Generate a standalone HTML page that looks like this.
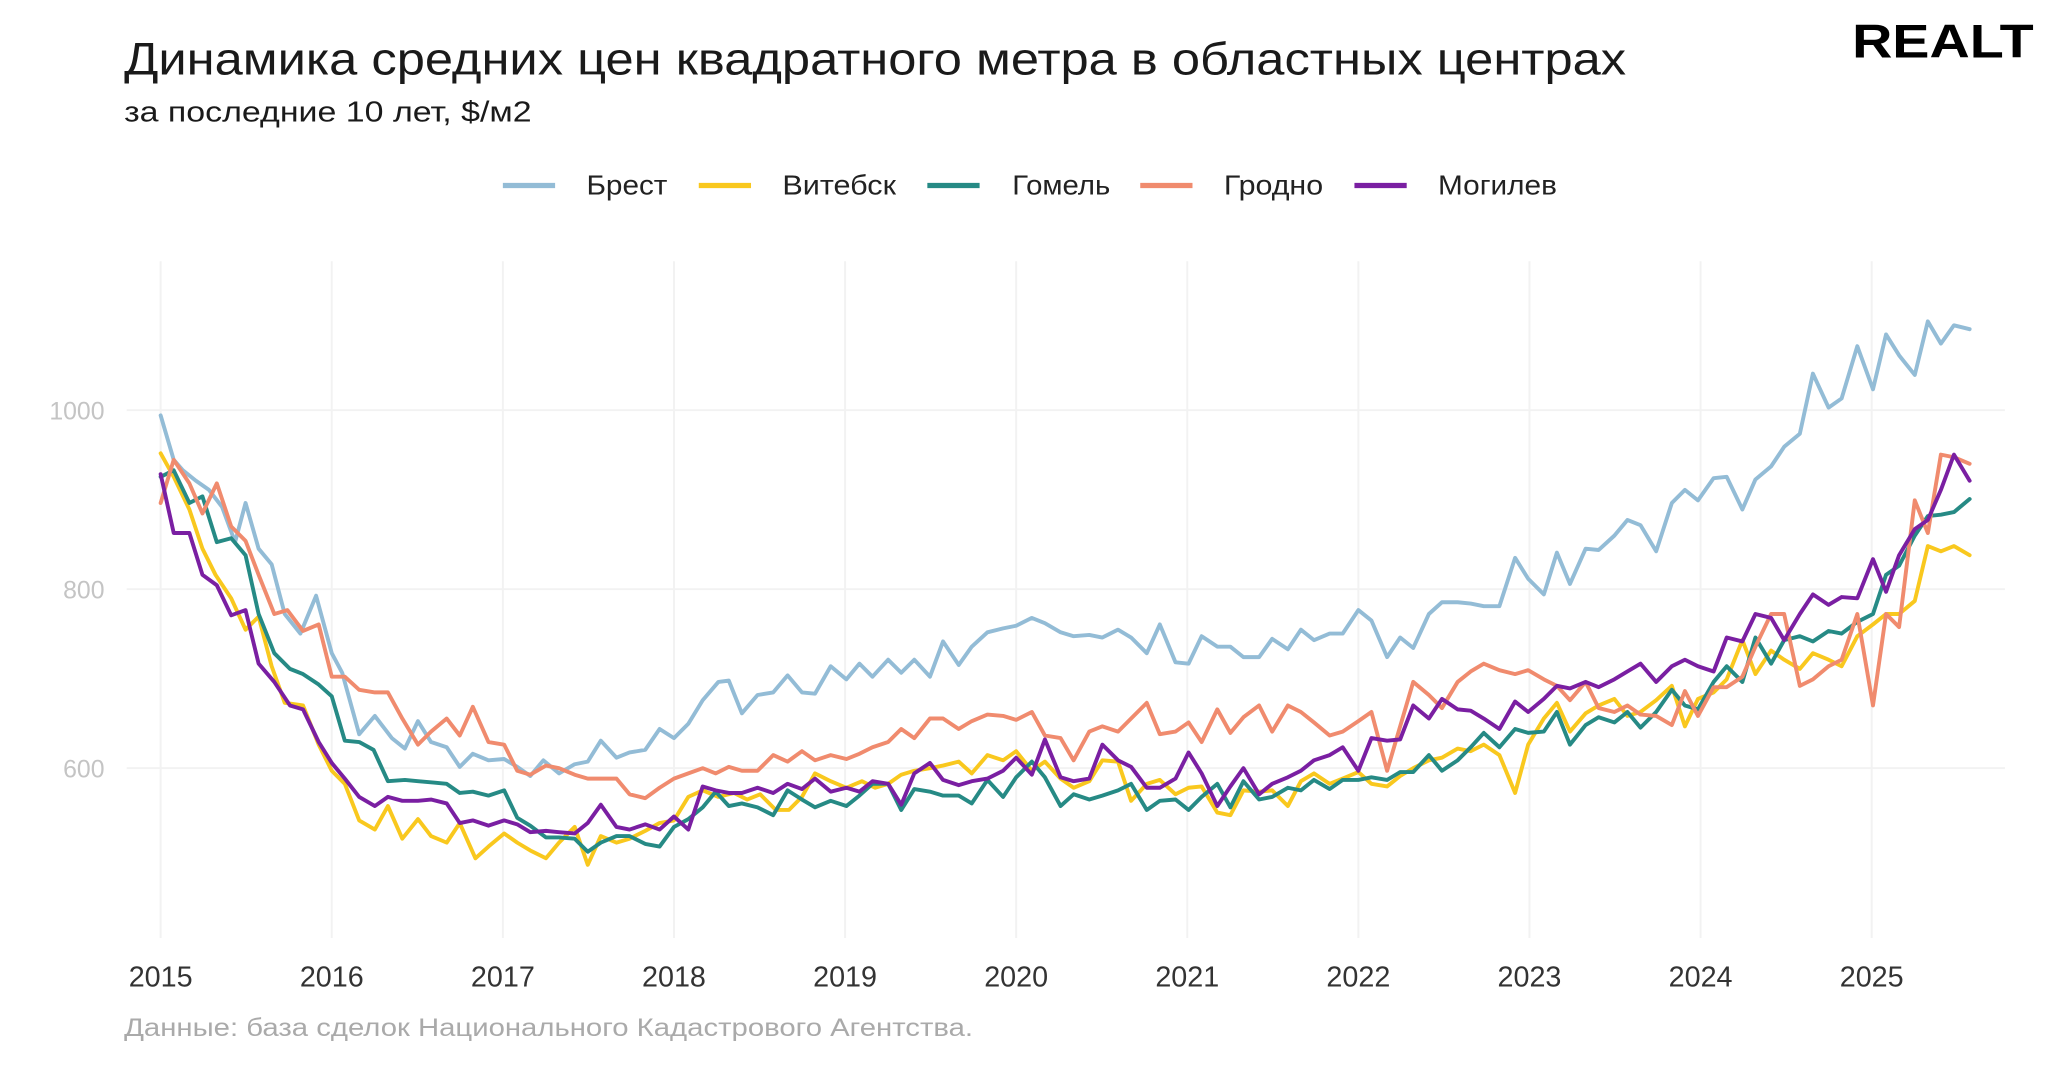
<!DOCTYPE html>
<html><head><meta charset="utf-8"><style>
html,body{margin:0;padding:0;background:#fff;}
svg{display:block;}
text{font-family:"Liberation Sans","DejaVu Sans",sans-serif;}
</style></head><body>
<svg width="2048" height="1083" viewBox="0 0 1568 829" preserveAspectRatio="none" xmlns="http://www.w3.org/2000/svg">
<rect width="1568" height="829" fill="#fff"/>
<text x="95" y="57" font-size="35" fill="#1a1a1a" textLength="1150" lengthAdjust="spacingAndGlyphs">Динамика средних цен квадратного метра в областных центрах</text>
<text x="95" y="93" font-size="22" fill="#1a1a1a" textLength="312" lengthAdjust="spacingAndGlyphs">за последние 10 лет, $/м2</text>
<text x="1418" y="44" font-size="36" font-weight="bold" fill="#000" textLength="139" lengthAdjust="spacingAndGlyphs">REALT</text>
<g font-size="21" fill="#222">
<line x1="385" y1="142" x2="425" y2="142" stroke="#93bcd6" stroke-width="4"/><text x="449" y="149" textLength="62" lengthAdjust="spacingAndGlyphs">Брест</text>
<line x1="535" y1="142" x2="575" y2="142" stroke="#f9c81e" stroke-width="4"/><text x="599" y="149" textLength="87" lengthAdjust="spacingAndGlyphs">Витебск</text>
<line x1="710" y1="142" x2="750" y2="142" stroke="#268a85" stroke-width="4"/><text x="775" y="149" textLength="75" lengthAdjust="spacingAndGlyphs">Гомель</text>
<line x1="873" y1="142" x2="913" y2="142" stroke="#f08b6e" stroke-width="4"/><text x="937" y="149" textLength="76" lengthAdjust="spacingAndGlyphs">Гродно</text>
<line x1="1037" y1="142" x2="1077" y2="142" stroke="#7a1fa2" stroke-width="4"/><text x="1101" y="149" textLength="91" lengthAdjust="spacingAndGlyphs">Могилев</text>
</g>
<g stroke="#f2f2f2" stroke-width="1.5">
<line x1="97" y1="314" x2="1535" y2="314"/><line x1="97" y1="451" x2="1535" y2="451"/><line x1="97" y1="588" x2="1535" y2="588"/>
<line x1="123" y1="200" x2="123" y2="718"/><line x1="254" y1="200" x2="254" y2="718"/><line x1="385" y1="200" x2="385" y2="718"/><line x1="516" y1="200" x2="516" y2="718"/><line x1="647" y1="200" x2="647" y2="718"/><line x1="778" y1="200" x2="778" y2="718"/><line x1="909" y1="200" x2="909" y2="718"/><line x1="1040" y1="200" x2="1040" y2="718"/><line x1="1171" y1="200" x2="1171" y2="718"/><line x1="1302" y1="200" x2="1302" y2="718"/><line x1="1433" y1="200" x2="1433" y2="718"/>
</g>
<g font-size="19" fill="#c4c4c4" text-anchor="end">
<text x="80" y="321">1000</text><text x="80" y="458">800</text><text x="80" y="595">600</text>
</g>
<g font-size="22" fill="#333" text-anchor="middle">
<text x="123" y="755">2015</text><text x="254" y="755">2016</text><text x="385" y="755">2017</text><text x="516" y="755">2018</text><text x="647" y="755">2019</text><text x="778" y="755">2020</text><text x="909" y="755">2021</text><text x="1040" y="755">2022</text><text x="1171" y="755">2023</text><text x="1302" y="755">2024</text><text x="1433" y="755">2025</text>
</g>
<text x="95" y="793" font-size="19" fill="#aaa" textLength="650" lengthAdjust="spacingAndGlyphs">Данные: база сделок Национального Кадастрового Агентства.</text>
<g fill="none" stroke-width="3" stroke-linejoin="round" stroke-linecap="round">
<polyline stroke="#93bcd6" points="123,318 133,352 140,360 150,368 160,375 170,388 180,415 188,385 198,420 208,432 218,470 230,485 242,456 254,500 262,515 275,562 287,548 300,565 310,573 320,552 330,568 342,572 352,587 362,577 374,582 386,581 396,587 406,594 416,582 428,592 440,585 450,583 460,567 472,580 482,576 494,574 505,558 516,565 527,554 538,536 550,522 558,521 568,546 580,532 592,530 603,517 614,530 624,531 636,510 648,520 658,508 668,518 680,505 690,515 700,505 712,518 722,491 734,509 744,495 756,484 768,481 778,479 790,473 800,477 812,484 822,487 834,486 844,488 856,482 866,488 878,500 888,478 900,507 910,508 920,487 932,495 942,495 952,503 964,503 974,489 986,497 996,482 1006,490 1018,485 1028,485 1040,467 1050,475 1062,503 1072,488 1082,496 1094,470 1104,461 1116,461 1126,462 1136,464 1148,464 1160,427 1170,443 1182,455 1192,423 1202,447 1214,420 1224,421 1236,410 1246,398 1256,402 1268,422 1280,385 1290,375 1300,383 1312,366 1322,365 1334,390 1344,367 1356,357 1366,342 1378,332 1388,286 1400,312 1410,305 1422,265 1434,298 1444,256 1454,272 1466,287 1476,246 1486,263 1496,249 1508,252"/>
<polyline stroke="#f9c81e" points="123,347 133,365 145,390 155,420 165,440 177,458 188,482 198,472 208,510 218,538 232,540 244,570 254,590 264,600 275,628 287,635 297,617 308,642 320,627 330,640 342,645 352,630 364,657 374,648 386,638 396,645 406,651 418,657 428,645 440,633 450,662 460,640 472,645 482,642 494,636 505,630 516,628 527,610 538,605 550,610 562,607 572,612 582,608 594,620 604,620 614,610 624,592 636,598 648,603 660,598 670,603 680,600 690,593 700,590 712,588 722,586 734,583 744,592 756,578 768,582 778,575 790,590 800,583 812,596 822,603 834,598 844,582 856,583 866,613 878,600 888,597 900,608 910,603 920,602 932,622 942,624 952,605 964,606 974,605 986,617 996,598 1006,592 1018,600 1028,596 1040,591 1050,600 1062,602 1072,594 1082,588 1094,582 1104,580 1116,573 1126,575 1136,570 1148,578 1160,607 1170,570 1182,550 1192,538 1202,560 1214,546 1224,540 1236,535 1246,548 1256,545 1268,536 1280,525 1290,556 1300,535 1312,530 1322,520 1334,490 1344,516 1356,498 1366,505 1378,512 1388,500 1400,505 1410,510 1422,487 1434,478 1444,470 1454,470 1466,460 1476,418 1486,422 1496,418 1508,425"/>
<polyline stroke="#268a85" points="123,365 133,360 145,385 155,380 166,415 177,412 188,425 198,470 210,500 222,512 232,516 244,524 254,533 264,567 275,568 286,574 297,598 310,597 320,598 332,599 342,600 352,607 362,606 374,609 386,605 396,626 406,632 418,641 428,641 440,642 450,652 460,645 472,640 482,640 494,646 505,648 516,633 527,627 538,618 548,606 558,617 568,615 580,618 592,624 603,605 614,612 624,618 636,613 648,617 658,609 668,600 680,600 690,620 700,604 712,606 722,609 734,609 744,615 756,597 768,610 778,595 790,583 800,595 812,617 822,608 834,612 844,609 856,605 866,600 878,620 888,613 900,612 910,620 920,610 932,600 942,618 952,598 964,612 974,610 986,603 996,605 1006,597 1018,604 1028,597 1040,597 1050,595 1062,597 1072,591 1082,591 1094,578 1104,590 1116,582 1126,572 1136,561 1148,572 1160,558 1170,561 1182,560 1192,545 1202,570 1214,555 1224,549 1236,553 1246,545 1256,557 1268,545 1280,528 1290,540 1300,543 1312,522 1322,510 1334,522 1344,488 1356,508 1366,490 1378,487 1388,491 1400,483 1410,485 1422,476 1434,470 1444,440 1454,433 1466,410 1476,395 1486,394 1496,392 1508,382"/>
<polyline stroke="#f08b6e" points="123,385 133,352 145,370 155,393 166,370 177,403 188,414 198,440 210,470 220,467 232,483 244,478 254,518 264,518 275,528 287,530 297,530 308,550 320,570 330,560 342,550 352,563 362,541 374,568 386,570 396,590 406,593 418,586 428,588 440,593 450,596 460,596 472,596 482,608 494,611 505,603 516,596 527,592 538,588 548,592 558,587 568,590 580,590 592,578 603,583 614,575 624,582 636,578 648,581 658,577 668,572 680,568 690,558 700,565 712,550 722,550 734,558 744,552 756,547 768,548 778,551 790,545 800,563 812,565 822,582 834,560 844,556 856,560 866,550 878,538 888,562 900,560 910,553 920,568 932,543 942,561 952,549 964,540 974,560 986,540 996,545 1006,553 1018,563 1028,560 1040,552 1050,545 1062,590 1072,556 1082,522 1094,532 1104,542 1116,522 1126,514 1136,508 1148,513 1160,516 1170,513 1182,520 1192,525 1202,536 1214,522 1224,542 1236,545 1246,540 1256,547 1268,548 1280,555 1290,529 1300,548 1312,526 1322,526 1334,518 1344,495 1356,470 1366,470 1378,525 1388,520 1400,510 1410,505 1422,470 1434,540 1444,470 1454,480 1466,383 1476,408 1486,348 1496,350 1508,355"/>
<polyline stroke="#7a1fa2" points="123,363 133,408 145,408 155,440 166,448 177,471 188,467 198,508 210,522 222,540 232,543 244,568 254,584 264,596 275,610 287,617 297,610 308,613 320,613 330,612 342,615 352,630 362,628 374,632 386,628 396,631 406,637 418,636 428,637 440,638 450,630 460,616 472,633 482,635 494,631 505,635 516,625 527,635 538,602 548,605 558,607 568,607 580,603 592,607 603,600 614,604 624,596 636,606 648,603 658,606 668,598 680,600 690,616 700,592 712,584 722,597 734,601 744,598 756,596 768,590 778,580 790,593 800,566 812,595 822,598 834,596 844,570 856,582 866,587 878,603 888,603 900,596 910,576 920,592 932,617 942,602 952,588 964,608 974,600 986,595 996,590 1006,582 1018,578 1028,572 1040,590 1050,565 1062,567 1072,566 1082,540 1094,550 1104,535 1116,543 1126,544 1136,550 1148,558 1160,537 1170,545 1182,535 1192,525 1202,527 1214,522 1224,526 1236,520 1246,514 1256,508 1268,522 1280,510 1290,505 1300,510 1312,514 1322,488 1334,491 1344,470 1356,473 1366,490 1378,470 1388,455 1400,463 1410,457 1422,458 1434,428 1444,453 1454,425 1466,405 1476,398 1486,375 1496,348 1508,368"/>
</g>
</svg>
</body></html>
